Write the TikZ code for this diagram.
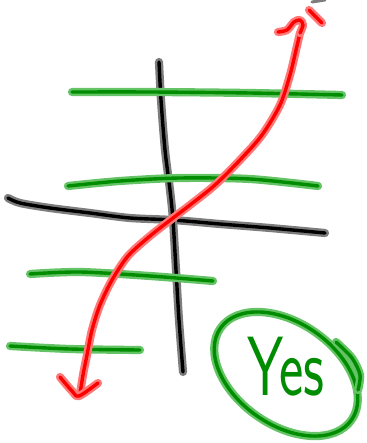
\documentclass[tikz,border=0pt]{standalone}
\usepackage{tikz}
\usetikzlibrary{calc}

\definecolor{inkgreen}{RGB}{0,140,0}
\definecolor{halogreen}{RGB}{100,195,100}
\definecolor{inkred}{RGB}{255,0,0}
\definecolor{halored}{RGB}{255,120,120}
\definecolor{haloblack}{RGB}{125,125,125}

\tikzset{
  inkline/.style 2 args={draw=#2, double=#1, double distance=3.4pt, line width=2.4pt,
    line cap=round, line join=round},
  greenink/.style={inkline={inkgreen}{halogreen}},
  blackink/.style={inkline={black}{haloblack}},
  redink/.style={inkline={inkred}{halored}}
}

\begin{document}
\begin{tikzpicture}[x=1pt, y=-1pt]
    \useasboundingbox[fill=white] (0,0) rectangle (366,443);

    % Axes
    \draw[blackink] plot[smooth] coordinates {(8,198) (20,203) (50,208) (90,213) (130,218) (173,220) (220,224) (270,228) (325,233)};
    \draw[blackink] plot[smooth] coordinates {(159,62) (161,100) (165,150) (170,190) (173,220) (176,270) (179,320) (183,372)};

    % Horizontal lines
    \draw[greenink] plot[smooth] coordinates {(72,92) (150,92) (250,93) (342,95)};
    \draw[greenink] plot[smooth] coordinates {(68,186) (120,181) (180,178) (250,179) (318,186)};
    \draw[greenink] plot[smooth] coordinates {(30,274) (80,272) (150,276) (213,281)};
    \draw[greenink] plot[smooth] coordinates {(10,346) (70,349) (140,350)};

    % Curve with both ends marked
    \draw[redink] plot[smooth] coordinates {(300,33) (296,50) (290,75) (280,105) (262,135) (240,160) (215,185) (190,205) (173,218) (150,236) (128,256) (112,280) (100,305) (92,330) (87,355) (83,375) (80,394)};
    \draw[redink] plot[smooth] coordinates {(300,33) (303,25) (300,20) (294,22) (287,30) (278,32)};
    \draw[redink] (309,10) -- (322,23);
    \draw[redink] plot[smooth] coordinates {(60,377) (72,391) (79,396) (98,383)};

    % Stray mark at the top
    \draw[haloblack, line width=3pt, line cap=round] (312,2) -- (325,0);

    % Answer
    \draw[greenink, rotate around={-35:(286,374)}] (286,374) ellipse [x radius=80, y radius=51];
    \draw[greenink] plot[smooth] coordinates {(336,342) (352,358) (360,375) (358,390)};
    \node[text=inkgreen, font=\sffamily\fontsize{58}{58}\selectfont, yscale=1.45] (answer) at (286,367) {Yes};
\end{tikzpicture}
\end{document}
